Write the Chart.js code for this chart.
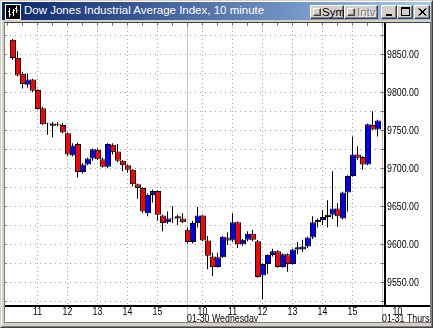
<!DOCTYPE html>
<html><head><meta charset="utf-8">
<script src="https://cdn.jsdelivr.net/npm/chart.js@4.4.0/dist/chart.umd.min.js"></script>
<style>
html,body{margin:0;padding:0;}
body{width:433px;height:328px;background:#D4D0C8;position:relative;overflow:hidden;font-family:'Liberation Sans',Arial,sans-serif;}
.abs{position:absolute;box-sizing:border-box;}
#frame{left:0;top:0;width:433px;height:328px;border-top:1px solid #D4D0C8;border-left:1px solid #D4D0C8;border-right:1px solid #404040;border-bottom:1px solid #404040;}
#frame2{left:1px;top:1px;width:431px;height:326px;border-top:1px solid #fff;border-left:1px solid #fff;border-right:1px solid #808080;border-bottom:1px solid #808080;}
#title{left:2px;top:2px;width:429px;height:18px;background:linear-gradient(to right,#0A246A,#A6CAF0);}
#ttext{left:24px;top:3px;color:#fff;font-size:11.5px;line-height:14px;white-space:nowrap;}
.btn{top:5px;height:14px;background:#D4D0C8;border-top:1px solid #fff;border-left:1px solid #fff;border-right:1px solid #404040;border-bottom:1px solid #404040;box-shadow:inset -1px -1px #808080;}
.btxt{top:0px;font-size:11.5px;line-height:12px;white-space:nowrap;}
.chk{left:2px;top:2px;width:8px;height:8px;border-top:1px solid #fff;border-left:1px solid #fff;border-right:1px solid #404040;border-bottom:1px solid #404040;box-shadow:inset -1px -1px #808080;}
#panel{left:4px;top:22px;width:427px;height:301px;background:#fff;border:1px solid #808080;border-top-color:#404040;}
#cv{position:absolute;left:5px;top:23px;}
</style>
</head><body>
<div id="frame" class="abs"></div>
<div id="frame2" class="abs"></div>
<div id="title" class="abs"></div>
<svg class="abs" style="left:5px;top:4px" width="16" height="16" viewBox="0 0 16 16">
  <rect x="0" y="0" width="16" height="16" fill="#000"/>
  <rect x="0.5" y="0.5" width="15" height="15" fill="none" stroke="#fff"/>
  <path d="M4.5 4 V13 M3 7.5 H4.5 M4.5 10.5 H6 M8.5 5 V12 M7 8.5 H8.5 M8.5 6.5 H10 M11.5 2 V9 M10 4.5 H11.5 M11.5 6.5 H13" stroke="#fff" fill="none"/>
</svg>
<div id="ttext" class="abs">Dow Jones Industrial Average Index, 10 minute</div>
<div class="abs btn" style="left:310px;width:34px;"><div class="abs chk"></div><div class="abs btxt" style="left:11px;color:#000;">Sym</div></div>
<div class="abs btn" style="left:344px;width:34px;"><div class="abs chk"></div><div class="abs btxt" style="left:12px;color:#808080;text-shadow:1px 1px 0 #fff;">Intv</div></div>
<div class="abs btn" style="left:381px;width:16px;"><div class="abs" style="left:4px;top:8px;width:6px;height:2px;background:#000;"></div></div>
<div class="abs btn" style="left:397px;width:16px;"><div class="abs" style="left:3px;top:1px;width:9px;height:9px;border:1px solid #000;border-top-width:2px;"></div></div>
<div class="abs btn" style="left:414px;width:16px;"><svg class="abs" style="left:3px;top:2px" width="9" height="8" viewBox="0 0 9 8"><path d="M0.5 0.5 L7.5 7.5 M1.5 0.5 L8.5 7.5 M7.5 0.5 L0.5 7.5 M8.5 0.5 L1.5 7.5" stroke="#000" stroke-width="1"/></svg></div>
<div id="panel" class="abs"></div>
<canvas id="cv" width="425" height="299"></canvas>
<script>
// ---- data (10-minute candles; slot 0 = 01-29 09:30, slot 39 = 01-30 09:30) ----
const slot  = [4,5,6,7,8,9,10,11,12,13,14,15,16,17,18,19,20,21,22,23,24,25,26,27,28,29,30,31,32,33,34,35,36,37,38,
               39,40,41,42,43,44,45,46,47,48,49,50,51,52,53,54,55,56,57,58,59,60,61,62,63,64,65,66,67,68,69,70,71,72,73,74,75,76,77];
const open  = [9869,9845,9824,9810,9817,9803,9779,9759,9759,9757,9757,9746,9717,9732,9695,9705,9713,9724,9712,9702,9731,9722,9710,9704,9698,9679,9674,9641,9665,9670,9638,9629,9634,9637,9634,
               9619,9603,9628,9638,9605,9584,9570,9583,9609,9605,9629,9600,9606,9614,9604,9559,9574,9586,9591,9570,9587,9574,9593,9593,9597,9609,9629,9632,9636,9639,9647,9634,9668,9690,9718,9715,9705,9757,9751];
const high  = [9870,9854,9827,9825,9818,9804,9781,9760,9761,9761,9760,9747,9733,9734,9707,9714,9726,9726,9714,9733,9733,9732,9711,9705,9699,9680,9675,9667,9672,9671,9639,9643,9650,9639,9641,
               9622,9631,9649,9639,9611,9589,9589,9611,9616,9641,9630,9607,9617,9619,9606,9575,9587,9594,9592,9588,9588,9594,9603,9606,9610,9637,9634,9645,9658,9696,9654,9669,9691,9742,9729,9716,9759,9775,9764];
const low   = [9843,9821,9805,9806,9800,9777,9757,9744,9741,9755,9746,9716,9716,9688,9693,9704,9710,9711,9701,9700,9718,9708,9696,9694,9676,9660,9641,9637,9655,9631,9617,9627,9628,9625,9628,
               9601,9601,9622,9604,9567,9558,9569,9582,9599,9603,9595,9598,9604,9604,9556,9528,9561,9584,9569,9569,9564,9573,9587,9590,9595,9607,9622,9625,9622,9633,9623,9633,9643,9689,9711,9698,9704,9750,9742];
const close = [9845,9822,9811,9817,9802,9778,9758,9758,9756,9758,9747,9718,9730,9695,9705,9713,9725,9712,9702,9732,9721,9710,9704,9698,9679,9674,9643,9665,9670,9639,9628,9634,9635,9634,9629,
               9603,9628,9638,9605,9585,9570,9583,9610,9605,9629,9600,9606,9614,9606,9557,9574,9586,9591,9570,9587,9574,9593,9596,9597,9609,9629,9632,9636,9639,9647,9637,9668,9690,9718,9714,9705,9758,9751,9763];
const yTicks = [9550,9600,9650,9700,9750,9800,9850];
const yGrid  = [9525,9550,9575,9600,9625,9650,9675,9700,9725,9750,9775,9800,9825,9850,9875];
const hourSlots  = [9,15,21,27,33,42,48,54,60,66,72,81];
const hourLabels = ['11','12','13','14','15','10','11','12','13','14','15','10'];
const daySlots   = [39,78];
const dayLabels  = ['01-30 Wednesday','01-31 Thursday'];

const UP='#0000FF', DOWN='#FF0000', GRID='#A0A0A0', SEP='#C0C0C0';
const FONT="'Liberation Sans',Arial,sans-serif";
const SQUEEZE=0.8;
const WICK_SHIFT=-0.1;

function narrowText(ctx, txt, px, py, align){
  ctx.save();
  ctx.translate(px, py);
  ctx.scale(SQUEEZE, 1);
  ctx.textAlign = align;
  ctx.fillText(txt, 0, 0);
  ctx.restore();
}

const chrome = {
  id:'chrome',
  beforeDatasetsDraw(chart){
    const {ctx, chartArea:a, scales:{x,y}} = chart;
    ctx.save();
    ctx.lineWidth=1; ctx.strokeStyle=GRID;
    ctx.setLineDash([1,4]);
    yGrid.forEach(v=>{
      const py=Math.round(y.getPixelForValue(v))+0.5;
      ctx.beginPath(); ctx.moveTo(a.left,py); ctx.lineTo(a.right,py); ctx.stroke();
    });
    ctx.setLineDash([1,3]);
    hourSlots.forEach(s=>{
      const px=x.getPixelForValue(s)-0.5;
      if(px>a.right) return;
      ctx.beginPath(); ctx.moveTo(px,a.top); ctx.lineTo(px,a.bottom); ctx.stroke();
    });
    ctx.setLineDash([]);
    ctx.strokeStyle=SEP;
    daySlots.forEach(s=>{
      const px=x.getPixelForValue(s)-0.5;
      ctx.beginPath(); ctx.moveTo(px,a.top); ctx.lineTo(px,chart.height); ctx.stroke();
    });
    ctx.fillStyle='#808080';
    yGrid.forEach(v=>{
      const py=Math.round(y.getPixelForValue(v));
      ctx.fillRect(a.left,py,2,1);
      ctx.fillRect(a.right-3,py,3,1);
    });
    for(let s=3;s<=78;s+=3){
      const px=x.getPixelForValue(s)-1;
      ctx.fillRect(px,a.top,1,3);
    }
    ctx.restore();
  },
  afterDraw(chart){
    const {ctx, chartArea:a, scales:{x,y}} = chart;
    ctx.save();
    ctx.fillStyle='#000';
    ctx.fillRect(a.right,a.top,2,a.bottom-a.top);
    ctx.fillRect(0,a.bottom-1,chart.width,2);
    ctx.font='11px '+FONT;
    ctx.textBaseline='middle';
    yTicks.forEach(v=>{
      narrowText(ctx, v.toFixed(2), a.right+3, y.getPixelForValue(v)+0.5, 'left');
    });
    hourSlots.forEach((s,i)=>{
      narrowText(ctx, hourLabels[i], x.getPixelForValue(s)-0.5, a.bottom+6, 'center');
    });
    daySlots.forEach((s,i)=>{
      narrowText(ctx, dayLabels[i], x.getPixelForValue(s)-1, a.bottom+12.5, 'left');
    });
    ctx.restore();
  }
};

new Chart(document.getElementById('cv'), {
  type:'bar',
  data:{datasets:[
    {label:'range', data:slot.map((s,i)=>({x:s+WICK_SHIFT, y:[low[i],high[i]]})),
     backgroundColor:'#000', borderWidth:0, barThickness:1, grouped:false, order:2, inflateAmount:0},
    {label:'body', data:slot.map((s,i)=>({x:s, y:[open[i],close[i]]})),
     backgroundColor:slot.map((s,i)=>close[i]>=open[i]?UP:DOWN),
     borderColor:'#000', borderWidth:1, borderSkipped:false, barThickness:6, grouped:false, order:1, inflateAmount:0}
  ]},
  options:{
    responsive:false, animation:false, devicePixelRatio:1,
    layout:{padding:0},
    plugins:{legend:{display:false}, tooltip:{enabled:false}},
    scales:{
      x:{type:'linear', min:2.4, max:78.2, offset:false,
         ticks:{display:false}, grid:{display:false, drawTicks:false}, border:{display:false},
         afterFit(s){ s.height=16; s.paddingLeft=0; s.paddingRight=0; }},
      y:{position:'right', min:9518.8, max:9891.2,
         afterBuildTicks(s){ s.ticks=yTicks.map(v=>({value:v})); },
         ticks:{display:false},
         grid:{display:false, drawTicks:false}, border:{display:false},
         afterFit(s){ s.width=46; s.paddingTop=0; s.paddingBottom=0; }}
    }
  },
  plugins:[chrome]
});
</script>
</body></html>
